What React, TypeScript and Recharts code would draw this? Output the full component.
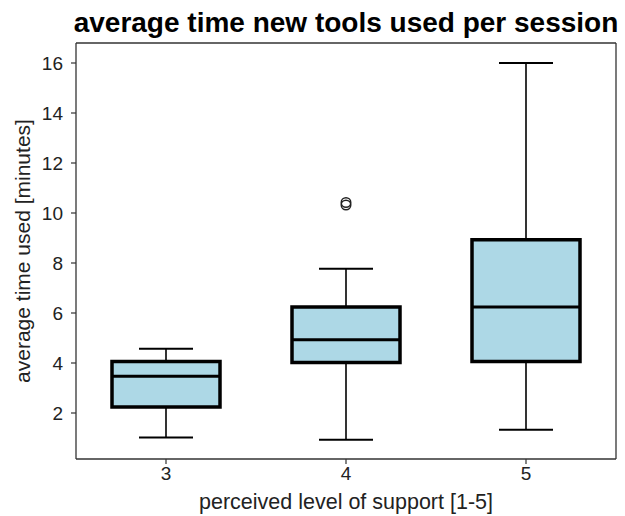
import React from 'react';
import { ComposedChart, Bar, XAxis, YAxis } from 'recharts';

const categories = ['3', '4', '5'];
const whiskerLow = [1.02, 0.93, 1.33];
const q1 = [2.24, 4.02, 4.06];
const median = [3.47, 4.93, 6.24];
const q3 = [4.06, 6.24, 8.93];
const whiskerHigh = [4.57, 7.77, 16.0];
const outliers: number[][] = [[], [10.32, 10.42], []];
const yTicks = [2, 4, 6, 8, 10, 12, 14, 16];

const data = categories.map((c, i) => ({
  cat: c,
  range: [whiskerLow[i], whiskerHigh[i]],
  lo: whiskerLow[i],
  q1: q1[i],
  med: median[i],
  q3: q3[i],
  hi: whiskerHigh[i],
  out: outliers[i],
}));

const FONT = '"Liberation Sans", Arial, sans-serif';
const FRAME = '#333333';

const BoxShape = (props: any) => {
  const { x, y, width, height, payload } = props;
  const top = Math.min(y, y + height);
  const bottom = Math.max(y, y + height);
  const h = bottom - top;
  const { lo, hi } = payload;
  const px = (v: number) => bottom - ((v - lo) / (hi - lo)) * h;
  const cx = x + width / 2;
  const capHalf = width / 4;
  return (
    <g>
      <line x1={cx} x2={cx} y1={px(hi)} y2={px(payload.q3)} stroke="#000" strokeWidth={1.6} />
      <line x1={cx} x2={cx} y1={px(payload.q1)} y2={px(lo)} stroke="#000" strokeWidth={1.6} />
      <line x1={cx - capHalf} x2={cx + capHalf} y1={px(hi)} y2={px(hi)} stroke="#000" strokeWidth={1.8} />
      <line x1={cx - capHalf} x2={cx + capHalf} y1={px(lo)} y2={px(lo)} stroke="#000" strokeWidth={1.8} />
      <rect
        x={x}
        y={px(payload.q3)}
        width={width}
        height={px(payload.q1) - px(payload.q3)}
        fill="#ADD8E6"
        stroke="#000"
        strokeWidth={3.5}
      />
      <line x1={x} x2={x + width} y1={px(payload.med)} y2={px(payload.med)} stroke="#000" strokeWidth={3} />
      {payload.out.map((v: number, k: number) => (
        <circle key={k} cx={cx} cy={px(v)} r={4.8} fill="none" stroke="#222" strokeWidth={1.4} />
      ))}
    </g>
  );
};

const HiddenShape = () => null;

const TitleLabel = (props: any) => {
  const vb = props.viewBox || {};
  return (
    <text
      x={vb.x + vb.width / 2}
      y={32}
      textAnchor="middle"
      fontFamily={FONT}
      fontWeight="bold"
      fontSize={28}
      fill="#000"
    >
      average time new tools used per session
    </text>
  );
};

const YLabel = (props: any) => {
  const vb = props.viewBox || {};
  const cx = 22;
  const cy = vb.y + vb.height / 2;
  return (
    <text
      x={cx}
      y={cy}
      transform={`rotate(-90, ${cx}, ${cy})`}
      textAnchor="middle"
      dominantBaseline="central"
      fontFamily={FONT}
      fontSize={21}
      fill="#222"
    >
      average time used [minutes]
    </text>
  );
};

const XLabel = (props: any) => {
  const vb = props.viewBox || {};
  return (
    <text
      x={vb.x + vb.width / 2}
      y={509}
      textAnchor="middle"
      fontFamily={FONT}
      fontSize={21.5}
      fill="#222"
    >
      perceived level of support [1-5]
    </text>
  );
};

export default function App() {
  return (
    <div style={{ position: 'absolute', left: 0, top: 0, width: 625, height: 516, background: '#fff' }}>
      <ComposedChart
        width={625}
        height={516}
        data={data}
        margin={{ top: 42, right: 8, bottom: 17, left: 0 }}
      >
        <XAxis
          dataKey="cat"
          xAxisId="bottom"
          height={40}
          tickLine={{ stroke: FRAME, strokeWidth: 1.2 }}
          tickSize={5}
          tickMargin={3}
          axisLine={{ stroke: FRAME, strokeWidth: 1.3 }}
          tick={{ fontFamily: FONT, fontSize: 19, fill: '#222' }}
          label={{ content: XLabel }}
        />
        <XAxis
          dataKey="cat"
          xAxisId="top"
          orientation="top"
          height={1}
          tick={false}
          tickLine={false}
          axisLine={{ stroke: FRAME, strokeWidth: 1.3 }}
          label={{ content: TitleLabel }}
        />
        <YAxis
          yAxisId="left"
          width={76}
          type="number"
          domain={[0.16, 16.8]}
          ticks={yTicks}
          tickSize={5}
          tickMargin={8}
          tickLine={{ stroke: FRAME, strokeWidth: 1.2 }}
          axisLine={{ stroke: FRAME, strokeWidth: 1.3 }}
          tick={{ fontFamily: FONT, fontSize: 19, fill: '#222' }}
          label={{ content: YLabel }}
        />
        <YAxis
          yAxisId="right"
          orientation="right"
          width={1}
          type="number"
          domain={[0.16, 16.8]}
          tick={false}
          tickLine={false}
          axisLine={{ stroke: FRAME, strokeWidth: 1.3 }}
        />
        <Bar
          dataKey="range"
          xAxisId="bottom"
          yAxisId="left"
          barSize={108}
          shape={BoxShape}
          isAnimationActive={false}
        />
        <Bar
          dataKey="range"
          xAxisId="top"
          yAxisId="right"
          barSize={1}
          shape={HiddenShape}
          isAnimationActive={false}
        />
      </ComposedChart>
    </div>
  );
}
